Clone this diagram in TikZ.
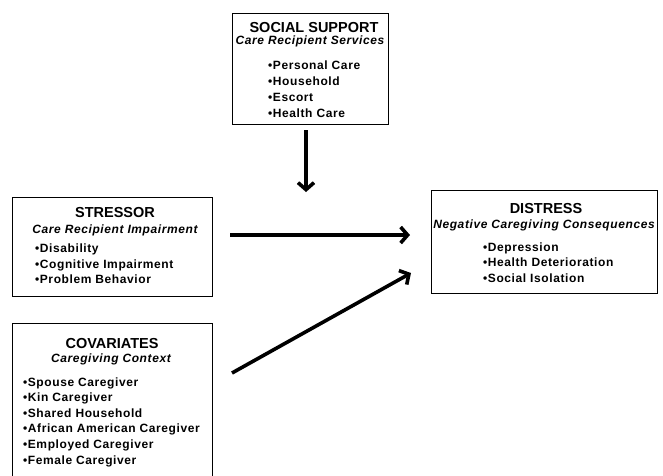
\documentclass[tikz,border=0pt]{standalone}
\usepackage{fontspec}
\setmainfont{Liberation Sans}
\newfontfamily\spacedfont{Liberation Sans}[LetterSpace=5]
\usetikzlibrary{arrows.meta}
\tikzset{
  panel/.style={draw, line width=0.9pt, inner sep=0pt},
  head/.style={inner sep=0pt, anchor=base, font=\fontsize{14.5}{16}\selectfont\bfseries},
  sub/.style={inner sep=0pt, anchor=base, font=\spacedfont\fontsize{12}{13}\selectfont\bfseries\itshape},
  entry/.style={inner sep=0pt, anchor=base west, font=\spacedfont\fontsize{12}{13}\selectfont\bfseries},
  flow/.style={line width=3.6pt, -{Straight Barb[length=7pt,width=16pt]}}
}
\newcommand\itemdot{{\fontsize{12}{12}\selectfont\textbullet}\hspace{0.5pt}}

\begin{document}
\begin{tikzpicture}[x=1pt,y=-1pt]
	\clip (0,0) rectangle (663,475);
	
	% social support
	\node[panel, minimum width=156pt, minimum height=111pt] (support) at (310,68.5) {};
	\node[head] (supporthead) at (314,32) {SOCIAL SUPPORT};
	\node[sub] (supportsub) at (310,44) {Care Recipient Services};
	\foreach \t [count=\i] in {Personal Care, Household, Escort, Health Care}
		\node[entry] (support\i) at (268,53+16*\i) {\itemdot\t};
	
	% stressor
	\node[panel, minimum width=200pt, minimum height=99pt] (stressor) at (112,246.5) {};
	\node[head] (stressorhead) at (115,217) {STRESSOR};
	\node[sub] (stressorsub) at (115,233) {Care Recipient Impairment};
	\foreach \t [count=\i] in {Disability, Cognitive Impairment, Problem Behavior}
		\node[entry] (stressor\i) at (35,237+15.5*\i) {\itemdot\t};
	
	% covariates
	\node[panel, minimum width=200pt, minimum height=177pt] (covariates) at (112,411.5) {};
	\node[head] (covariateshead) at (112,348) {COVARIATES};
	\node[sub] (covariatessub) at (111,362) {Caregiving Context};
	\foreach \t [count=\i] in {Spouse Caregiver, Kin Caregiver, Shared Household, African American Caregiver, Employed Caregiver, Female Caregiver}
		\node[entry] (covariates\i) at (23,370.5+15.6*\i) {\itemdot\t};
	
	% distress
	\node[panel, minimum width=226pt, minimum height=103pt] (distress) at (544,241.5) {};
	\node[head] (distresshead) at (546,213) {DISTRESS};
	\node[sub] (distresssub) at (544,228) {Negative Caregiving Consequences};
	\foreach \t [count=\i] in {Depression, Health Deterioration, Social Isolation}
		\node[entry] (distress\i) at (483,235.5+15.5*\i) {\itemdot\t};
	
	% arrows
	\coordinate (supportout) at (306,130);
	\coordinate (supportin) at (306,192);
	\coordinate (stressorout) at (230,235);
	\coordinate (stressorin) at (410,235);
	\coordinate (covariatesout) at (232,373);
	\coordinate (covariatesin) at (411,273);
	\draw[flow] (supportout) -- (supportin);
	\draw[flow] (stressorout) -- (stressorin);
	\draw[flow] (covariatesout) -- (covariatesin);
\end{tikzpicture}
\end{document}
